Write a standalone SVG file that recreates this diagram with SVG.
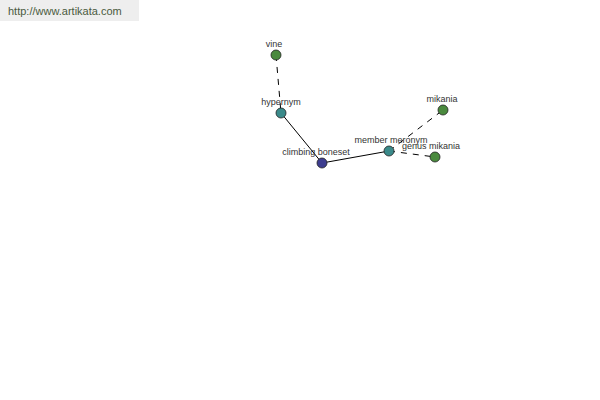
<svg xmlns="http://www.w3.org/2000/svg" width="600" height="400" viewBox="0 0 600 400">
<style>
.lbl{font-family:"Liberation Sans",Arial,sans-serif;font-size:9px;fill:#333;text-anchor:middle}
.n{stroke:#222;stroke-width:0.8}
.g{fill:#4a8a3e}.t{fill:#3a8a8a}.b{fill:#3d3d8f}
.e{stroke:#000;stroke-width:1;fill:none}
.d{stroke-dasharray:6,6}
</style>
<rect x="0" y="0" width="139" height="21" fill="#eeeeee"/>
<text x="8" y="15" font-family="Liberation Sans,Arial,sans-serif" font-size="11" fill="#4a5a40">http://www.artikata.com</text>
<g id="connectors">
<line class="e d" x1="276" y1="55" x2="281" y2="113"/>
<line class="e" x1="281" y1="113" x2="322" y2="163"/>
<line class="e" x1="322" y1="163" x2="389" y2="151"/>
<line class="e d" x1="389" y1="151" x2="443" y2="110"/>
<line class="e d" x1="389" y1="151" x2="435" y2="157"/>
</g>
<g id="vine"><circle class="n g" cx="276" cy="55" r="5"/><text class="lbl" x="274" y="47">vine</text></g>
<g id="hypernym"><circle class="n t" cx="281" cy="113" r="5"/><text class="lbl" x="281" y="105">hypernym</text></g>
<g id="climbing-boneset"><circle class="n b" cx="322" cy="163" r="5"/><text class="lbl" x="316" y="155">climbing boneset</text></g>
<g id="member-meronym"><circle class="n t" cx="389" cy="151" r="5"/><text class="lbl" x="391" y="143">member meronym</text></g>
<g id="mikania"><circle class="n g" cx="443" cy="110" r="5"/><text class="lbl" x="442" y="102">mikania</text></g>
<g id="genus-mikania"><circle class="n g" cx="435" cy="157" r="5"/><text class="lbl" x="431" y="149">genus mikania</text></g>
</svg>
